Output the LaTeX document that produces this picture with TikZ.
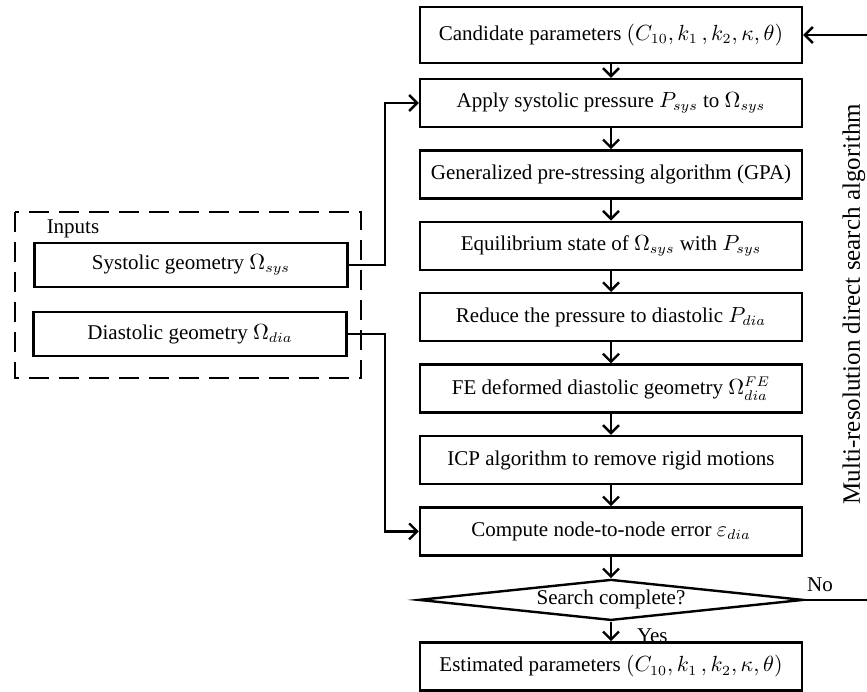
\documentclass[tikz,border=0pt]{standalone}
\usepackage{fontspec}
\setmainfont{Liberation Serif}
\usepackage{amsmath}
\usetikzlibrary{shapes.geometric, arrows.meta, positioning}

\begin{document}
\begin{tikzpicture}[
    x=0.5pt, y=-0.5pt,
    every node/.style={font=\fontsize{10.5}{12.5}\selectfont},
    node distance=10.5pt,
    box/.style={draw, rectangle, line width=1.2pt, minimum width=191pt, minimum height=24pt, inner sep=2pt},
    inbox/.style={draw, rectangle, line width=1.2pt, minimum width=156.5pt, minimum height=22pt, inner sep=2pt},
    decision/.style={draw, diamond, aspect=9.4, line width=1.2pt, minimum width=192.5pt, minimum height=20.5pt, inner sep=0pt},
    arr/.style={-{Straight Barb[length=4pt,width=8pt]}, line width=1.2pt},
    side/.style={font=\fontsize{12.5}{14}\selectfont, rotate=90}
]
\useasboundingbox (0,0) rectangle (867,691);
\clip (0,0) rectangle (867,691);

% Main column
\node[box, minimum height=28pt] (cand) at (611,35) {Candidate parameters $(C_{10}, k_1\,, k_2, \kappa, \theta)$};
\node[box, below=6.8pt of cand] (apply) {Apply systolic pressure $P_{sys}$ to $\Omega_{sys}$};
\node[box, below=of apply] (gpa) {Generalized pre-stressing algorithm (GPA)};
\node[box, below=of gpa] (equil) {Equilibrium state of $\Omega_{sys}$ with $P_{sys}$};
\node[box, below=of equil] (reduce) {Reduce the pressure to diastolic $P_{dia}$};
\node[box, below=of reduce] (fe) {FE deformed diastolic geometry $\Omega_{dia}^{FE}$};
\node[box, below=of fe] (icp) {ICP algorithm to remove rigid motions};
\node[box, below=of icp] (err) {Compute node-to-node error $\varepsilon_{dia}$};
\node[decision, below=10.8pt of err] (done) {Search complete?};
\node[box, below=9.8pt of done] (est) {Estimated parameters $(C_{10}, k_1\,, k_2, \kappa, \theta)$};

% Inputs
\node[inbox] (sys) at (191,265) {Systolic geometry $\Omega_{sys}$};
\node[inbox] (dia) at (190,334) {Diastolic geometry $\Omega_{dia}$};
\draw[line width=1.2pt, dash pattern=on 10pt off 5pt] (15,212) rectangle (361,378);
\node (inputs) at (73,229) {Inputs};

% Side label
\node[side] (msd) at (854,304) {Multi-resolution direct search algorithm};

% Connections (vertical)
\draw[arr] (cand) -- (apply);
\draw[arr] (apply) -- (gpa);
\draw[arr] (gpa) -- (equil);
\draw[arr] (equil) -- (reduce);
\draw[arr] (reduce) -- (fe);
\draw[arr] (fe) -- (icp);
\draw[arr] (icp) -- (err);
\draw[arr] (err) -- (done);
\draw[arr] (done) -- (est);

% Inputs to the loop
\draw[arr] (sys.east) -- ++(36,0) |- (apply.west);
\draw[arr] (dia.east) -- ++(37,0) |- (err.west);

% Feedback
\draw[arr] (done.east) -- ++(80,0) |- (cand.east);

% Labels
\node[anchor=south west, inner sep=1pt] (no) at ([yshift=3pt]done.east) {No};
\node[below right=0pt and 9.5pt of done.south] (yes) {Yes};

\end{tikzpicture}
\end{document}
